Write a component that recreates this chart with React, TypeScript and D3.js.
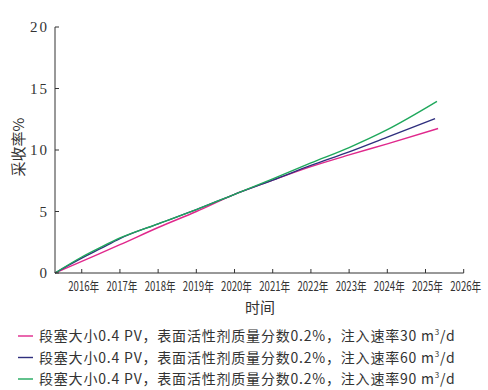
import React from "react";
import * as d3 from "d3";

const years = [2016, 2017, 2018, 2019, 2020, 2021, 2022, 2023, 2024, 2025, 2026];
const yTicks = [0, 5, 10, 15, 20];
const rates = [30, 60, 90];

const tPink = [2015.3, 2016, 2017, 2018, 2019, 2020, 2021, 2022, 2023, 2024, 2025.33];
const vPink = [0, 0.95, 2.3, 3.7, 5.0, 6.4, 7.55, 8.65, 9.6, 10.5, 11.75];

const tBlue = [2015.3, 2016, 2016.5, 2017, 2018, 2019, 2020, 2021, 2022, 2023, 2024, 2025.25];
const vBlue = [0, 1.2, 2.0, 2.8, 4.0, 5.15, 6.4, 7.55, 8.75, 9.85, 11.05, 12.55];

const tGreen = [2015.3, 2016, 2016.5, 2017, 2018, 2019, 2020, 2021, 2022, 2023, 2024, 2025.3];
const vGreen = [0, 1.3, 2.1, 2.85, 4.0, 5.15, 6.4, 7.65, 8.95, 10.2, 11.65, 13.95];

const series = [
  { t: tPink, v: vPink, color: "#e0288c" },
  { t: tBlue, v: vBlue, color: "#2f2f7e" },
  { t: tGreen, v: vGreen, color: "#1fa85c" },
];

export default function App() {
  const x = d3.scaleLinear().domain([2015.3, 2026]).range([55, 463.7]);
  const y = d3.scaleLinear().domain([0, 20]).range([273, 27]);
  const line = d3
    .line<[number, number]>()
    .x((d) => x(d[0]))
    .y((d) => y(d[1]))
    .curve(d3.curveMonotoneX);
  const serif = "'Liberation Serif', 'DejaVu Serif', serif";
  const cjk = "'Noto Sans CJK SC', sans-serif";
  return (
    <svg width={488} height={390} style={{ position: "absolute", left: 0, top: 0, background: "#fff" }}>
      {series.map((s, i) => (
        <path
          key={i}
          d={line(s.t.map((t, j) => [t, s.v[j]] as [number, number])) || ""}
          fill="none"
          stroke={s.color}
          strokeWidth={1.4}
        />
      ))}
      <line x1={55} x2={55} y1={y(20)} y2={y(0)} stroke="#333" strokeWidth={1} />
      <line x1={55} x2={x(2026)} y1={y(0)} y2={y(0)} stroke="#333" strokeWidth={1} />
      {yTicks.map((t) => (
        <g key={t}>
          <line x1={55} x2={59} y1={y(t)} y2={y(t)} stroke="#333" />
          <text
            x={49}
            y={y(t)}
            dy="0.35em"
            textAnchor="end"
            fontFamily={serif}
            fontSize={15}
            letterSpacing={2}
            fill="#333"
          >
            {t}
          </text>
        </g>
      ))}
      {years.map((yr) => (
        <g key={yr}>
          <line x1={x(yr)} x2={x(yr)} y1={y(0)} y2={y(0) - 4} stroke="#333" />
          <g transform={`translate(${x(yr) + 2},${y(0) + 17.5}) scale(0.74,1)`}>
            <text x={0} y={0} textAnchor="middle" fontFamily={cjk} fontSize={13} fill="#333">
              {yr}年
            </text>
          </g>
        </g>
      ))}
      <text x={260} y={313} textAnchor="middle" fontFamily={cjk} fontSize={15} fill="#333">
        时间
      </text>
      <text
        transform="translate(24,147) rotate(-90)"
        textAnchor="middle"
        fontFamily={cjk}
        fontSize={15}
        fill="#333"
      >
        采收率%
      </text>
      {series.map((s, i) => {
        const ly = 336 + i * 21.5;
        return (
          <g key={"l" + i}>
            <line x1={18} x2={33} y1={ly} y2={ly} stroke={s.color} strokeWidth={1.4} />
            <text x={39} y={ly + 5} fontFamily={cjk} fontSize={14} letterSpacing={0.8} fill="#333">
              {`段塞大小0.4 PV，表面活性剂质量分数0.2%，注入速率${rates[i]} m`}
              <tspan fontSize={8} dy={-6}>3</tspan>
              <tspan dy={6}>/d</tspan>
            </text>
          </g>
        );
      })}
    </svg>
  );
}
